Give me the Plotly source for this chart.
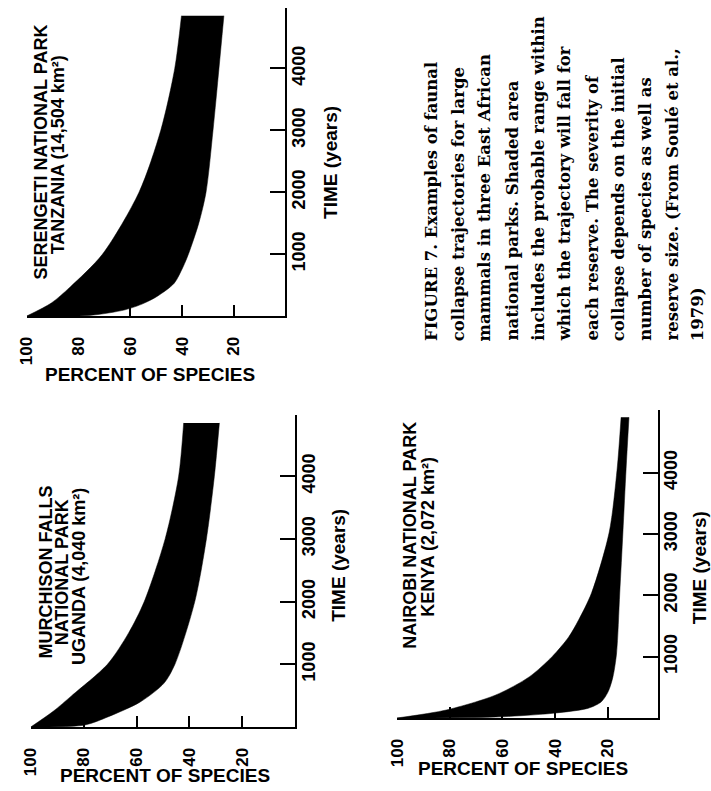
import plotly.graph_objects as go

W, H = 711, 791

# ---------------- data ----------------
park_titles = [
    ["SERENGETI NATIONAL PARK", "TANZANIA (14,504 km²)"],
    ["MURCHISON FALLS", "NATIONAL PARK", "UGANDA (4,040 km²)"],
    ["NAIROBI NATIONAL PARK", "KENYA (2,072 km²)"],
]

pct_ticks = [100, 80, 60, 40, 20]
time_ticks = [1000, 2000, 3000, 4000]

# Serengeti band (upper = higher percent edge, lower = lower percent edge)
ser_upper_t = [0, 210, 470, 1000, 2000, 3000, 4000, 4850]
ser_upper_p = [100, 90.5, 83.2, 70.7, 56.6, 48.2, 42.8, 40.2]
ser_lower_t = [0, 8, 100, 200, 320, 530, 800, 1000, 1500, 2000, 3000, 4000, 4850]
ser_lower_p = [100, 76, 62.0, 55.0, 49.5, 43.0, 39.5, 37.5, 33.5, 30.7, 28.0, 25.7, 23.8]

# Murchison Falls band
mur_upper_t = [0, 250, 500, 1000, 1500, 2000, 3000, 4000, 4850]
mur_upper_p = [100, 91.5, 84.5, 71.0, 63.0, 57.1, 49.2, 44.1, 42.2]
mur_lower_t = [0, 32, 160, 400, 700, 1000, 2000, 3000, 4000, 4850]
mur_lower_p = [100, 79.5, 70.9, 58.6, 49.6, 45.5, 38.0, 33.6, 30.6, 28.7]

# Nairobi band
nai_upper_t = [0, 130, 375, 670, 1000, 1320, 1600, 2040, 3030, 4060, 4900]
nai_upper_p = [100, 81.3, 62.5, 49.8, 41.1, 34.8, 31.0, 26.1, 19.4, 16.4, 14.9]
nai_lower_t = [0, 16, 80, 160, 265, 430, 670, 1060, 2040, 3030, 4060, 4900]
nai_lower_p = [100, 62.5, 40.0, 27.3, 22.4, 19.8, 18.0, 16.6, 15.4, 14.2, 13.0, 11.9]

caption_lines = [
    "FIGURE 7. Examples of faunal",
    "collapse trajectories for large",
    "mammals in three East African",
    "national parks. Shaded area",
    "includes the probable range within",
    "which the trajectory will fall for",
    "each reserve. The severity of",
    "collapse depends on the initial",
    "number of species as well as",
    "reserve size. (From Soulé et al.,",
    "1979)",
]

x_title = "PERCENT OF SPECIES"
y_title = "TIME (years)"

# ---------------- layout geometry (pixels) ----------------
panels = [
    dict(x0=18, x1=280, y0=8, y1=316, pmin=0, tmax=4976,
         up=(ser_upper_t, ser_upper_p), lo=(ser_lower_t, ser_lower_p),
         title_x=[32, 50], title_y=[152, 155],
         xt=(143, 374), yt=(325, 162)),
    dict(x0=22, x1=290, y0=415, y1=727, pmin=0, tmax=4976,
         up=(mur_upper_t, mur_upper_p), lo=(mur_lower_t, mur_lower_p),
         title_x=[37, 54, 71], title_y=[572, 572, 577],
         xt=(158, 775), yt=(333, 565)),
    dict(x0=393, x1=657, y0=410, y1=718, pmin=1, tmax=5020,
         up=(nai_upper_t, nai_upper_p), lo=(nai_lower_t, nai_lower_p),
         title_x=[406, 424], title_y=[535, 537],
         xt=(521, 768), yt=(699, 568)),
]

SANS = "Liberation Sans"
SERIF = "DejaVu Serif"

fig = go.Figure()
annotations = []

def ann(text, xpx, ypx, size, family=SANS, angle=-90, xanchor="center",
        yanchor="middle", bold=True):
    t = f"<b>{text}</b>" if bold else text
    annotations.append(dict(
        text=t, x=xpx / W, y=1 - ypx / H, xref="paper", yref="paper",
        showarrow=False, textangle=angle, xanchor=xanchor, yanchor=yanchor,
        font=dict(family=family, size=size, color="black"),
    ))

for i, p in enumerate(panels):
    k = "" if i == 0 else str(i + 1)
    xa, ya = "x" + k, "y" + k
    ut, up = p["up"]
    lt, lp = p["lo"]
    fig.add_trace(go.Scatter(
        x=up, y=ut, xaxis=xa, yaxis=ya, mode="lines",
        line=dict(color="black", width=0.5, shape="spline", smoothing=0.8),
        showlegend=False, hoverinfo="skip"))
    fig.add_trace(go.Scatter(
        x=lp, y=lt, xaxis=xa, yaxis=ya, mode="lines", fill="tonextx",
        fillcolor="black",
        line=dict(color="black", width=0.5, shape="spline", smoothing=0.8),
        showlegend=False, hoverinfo="skip"))

    fig.update_layout(**{
        "xaxis" + k: dict(
            domain=[p["x0"] / W, p["x1"] / W], range=[100, p["pmin"]],
            anchor=ya, tickmode="array", tickvals=pct_ticks,
            ticktext=[str(v) for v in pct_ticks],
            ticks="inside", ticklen=11, tickwidth=2, tickcolor="black",
            showline=True, linewidth=2, linecolor="black",
            showgrid=False, zeroline=False, tickangle=-90,
            ticklabelstandoff=12,
            tickfont=dict(family=SANS, size=17, color="black", weight="bold"),
            fixedrange=True),
        "yaxis" + k: dict(
            domain=[1 - p["y1"] / H, 1 - p["y0"] / H], range=[0, p["tmax"]],
            anchor=xa, side="right", tickmode="array",
            tickvals=time_ticks + [p["tmax"]],
            ticktext=[str(v) for v in time_ticks] + [""],
            ticks="inside", ticklen=15, tickwidth=2, tickcolor="black",
            showline=True, linewidth=2, linecolor="black",
            showgrid=False, zeroline=False, tickangle=-90,
            ticklabelstandoff=-4,
            tickfont=dict(family=SANS, size=18, color="black", weight="bold"),
            fixedrange=True),
    })

    for line, tx, ty in zip(park_titles[i], p["title_x"], p["title_y"]):
        ann(line, tx, ty, 18)
    ann(x_title, p["xt"][0], p["xt"][1], 19, angle=0)
    ann(y_title, p["yt"][0], p["yt"][1], 19)

cap_x = [428, 455, 482, 509, 536, 563, 590, 617, 644, 671, 697]
for line, cx in zip(caption_lines, cap_x):
    ann(line, cx, 343, 16.5, family=SERIF, yanchor="bottom")

fig.update_layout(
    width=W, height=H, autosize=False,
    margin=dict(l=0, r=0, t=0, b=0),
    paper_bgcolor="white", plot_bgcolor="white",
    annotations=annotations,
)

fig.write_html("out.html")
